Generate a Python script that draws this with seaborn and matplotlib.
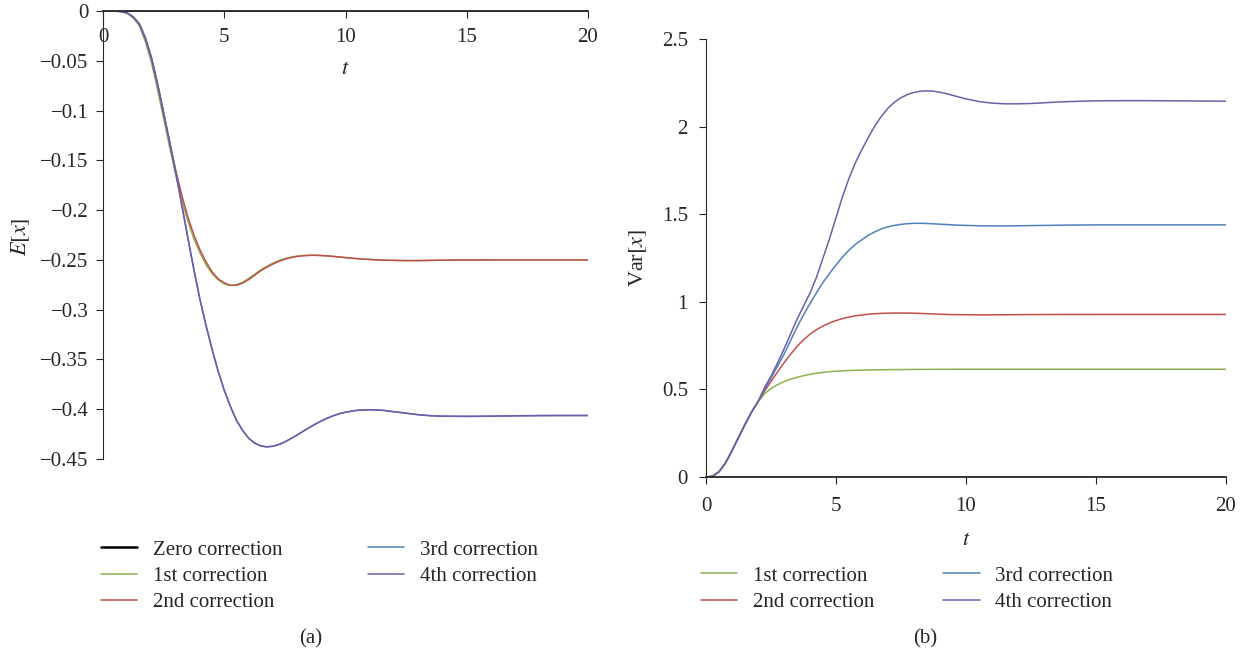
import pandas as pd
import seaborn as sns
import numpy as np
import matplotlib.pyplot as plt
from matplotlib.ticker import FuncFormatter

# time grid shared by every curve (fine where the curves move, coarse at the tail)
t = list(np.arange(0, 10.01, 0.25)) + [10.5, 11, 11.5, 12, 12.5, 13, 13.5, 14, 15, 16, 17, 18, 19, 20]

# (a) E[x]
mean_zero = [0.0] * len(t)
mean_1st = [0, 0, -0.0001, -0.0006, -0.0025, -0.007, -0.015, -0.031, -0.052, -0.079,
            -0.108, -0.137, -0.165, -0.190, -0.211, -0.229, -0.243, -0.255, -0.264, -0.270,
            -0.2742, -0.2757, -0.275, -0.2725, -0.2688, -0.2645, -0.2602, -0.2565, -0.2533,
            -0.2507, -0.2487, -0.2472, -0.2462, -0.2456, -0.2453, -0.2453, -0.2456, -0.246,
            -0.2465, -0.2471, -0.2477,
            -0.2488, -0.2496, -0.2502, -0.2505, -0.2507, -0.2507, -0.2505, -0.2503,
            -0.2501, -0.25, -0.25, -0.25, -0.25, -0.25]
mean_2nd = [0, 0, -0.0001, -0.0005, -0.002, -0.006, -0.013, -0.028, -0.048, -0.074,
            -0.103, -0.132, -0.160, -0.185, -0.207, -0.225, -0.240, -0.252, -0.262, -0.269,
            -0.273, -0.2755, -0.2755, -0.2735, -0.270, -0.2655, -0.261, -0.2575, -0.2543,
            -0.2515, -0.2493, -0.2477, -0.2466, -0.2459, -0.2455, -0.2454, -0.2456, -0.246,
            -0.2465, -0.2471, -0.2477,
            -0.2488, -0.2496, -0.2502, -0.2505, -0.2507, -0.2507, -0.2505, -0.2503,
            -0.2501, -0.25, -0.25, -0.25, -0.25, -0.25]
mean_3rd = [0, 0, -0.0001, -0.0005, -0.002, -0.006, -0.013, -0.027, -0.047, -0.073,
            -0.102, -0.132, -0.162, -0.195, -0.228, -0.260, -0.290, -0.316, -0.340, -0.362,
            -0.381, -0.397, -0.411, -0.421, -0.429, -0.434, -0.4368, -0.4378, -0.4372,
            -0.4355, -0.4328, -0.4295, -0.426, -0.4222, -0.4185, -0.415, -0.4118, -0.409,
            -0.4065, -0.4045, -0.403,
            -0.401, -0.4005, -0.401, -0.4025, -0.404, -0.4055, -0.4065, -0.407,
            -0.4072, -0.407, -0.4066, -0.4064, -0.4063, -0.4063]
mean_4th = mean_3rd

# (b) Var[x]
var_start = [0, 0.004, 0.03, 0.08, 0.15, 0.225, 0.30, 0.37, 0.43]
var_1st = var_start + [0.475, 0.505, 0.527, 0.544, 0.558, 0.569, 0.578, 0.586, 0.592,
                       0.597, 0.601, 0.604, 0.606, 0.608, 0.609, 0.610, 0.611, 0.6115,
                       0.612, 0.6125, 0.613, 0.6133, 0.6136, 0.6139, 0.6141, 0.6143,
                       0.6145, 0.6147, 0.6148, 0.6149, 0.615, 0.615, 0.615, 0.615,
                       0.615, 0.615, 0.615, 0.615, 0.615, 0.615, 0.615, 0.615, 0.615,
                       0.615, 0.615, 0.615]
var_2nd = var_start + [0.49, 0.545, 0.60, 0.652, 0.70, 0.745, 0.783, 0.815, 0.841,
                       0.862, 0.879, 0.893, 0.904, 0.913, 0.920, 0.925, 0.929, 0.932,
                       0.934, 0.935, 0.936, 0.936, 0.9355, 0.935, 0.9335, 0.932, 0.9305,
                       0.929, 0.928, 0.927, 0.9265, 0.926, 0.9255, 0.9255, 0.926, 0.9265,
                       0.927, 0.9273, 0.9275, 0.9277, 0.9278, 0.9278, 0.9278, 0.9278,
                       0.9278, 0.9278]
var_3rd = var_start + [0.50, 0.565, 0.632, 0.70, 0.778, 0.855, 0.925, 0.99, 1.052,
                       1.11, 1.162, 1.21, 1.255, 1.295, 1.328, 1.355, 1.38, 1.40, 1.416,
                       1.428, 1.436, 1.442, 1.446, 1.448, 1.448, 1.447, 1.445, 1.443,
                       1.441, 1.439, 1.437, 1.436, 1.434, 1.433, 1.433, 1.434, 1.435,
                       1.436, 1.437, 1.438, 1.439, 1.439, 1.439, 1.439, 1.439, 1.439]
var_4th = var_start + [0.51, 0.575, 0.65, 0.73, 0.815, 0.90, 0.975, 1.05, 1.14, 1.25,
                       1.36, 1.48, 1.60, 1.705, 1.795, 1.87, 1.94, 2.005, 2.06, 2.105,
                       2.14, 2.165, 2.183, 2.195, 2.202, 2.204, 2.202, 2.196, 2.188,
                       2.178, 2.168, 2.158, 2.143, 2.134, 2.13, 2.13, 2.132, 2.136,
                       2.14, 2.143, 2.147, 2.148, 2.148, 2.147, 2.146, 2.145]

labels = ['Zero correction', '1st correction', '2nd correction', '3rd correction', '4th correction']
colors = {'Zero correction': 'black', '1st correction': '#8cb04e', '2nd correction': '#c0504d',
          '3rd correction': '#4f81bd', '4th correction': '#6c5fa8'}

df_mean = pd.DataFrame({'t': t * 5,
                        'value': mean_zero + mean_1st + mean_2nd + mean_3rd + mean_4th,
                        'series': np.repeat(labels, len(t))})
df_var = pd.DataFrame({'t': t * 4,
                       'value': var_1st + var_2nd + var_3rd + var_4th,
                       'series': np.repeat(labels[1:], len(t))})

sns.set_style('ticks')
plt.rcParams['font.family'] = ['Liberation Serif', 'DejaVu Serif']
plt.rcParams['mathtext.fontset'] = 'stix'
fs = 15


def fmt(v, pos):
    return f'{v:g}'.replace('-', '\u2212')


fig = plt.figure(figsize=(12.5, 6.57), dpi=100)

# ---- (a) ----
ax1 = fig.add_axes([103 / 1250, 1 - 459 / 657, 485 / 1250, 448 / 657])
sns.lineplot(data=df_mean, x='t', y='value', hue='series', hue_order=labels,
             palette=colors, linewidth=1.1, ax=ax1, legend=False)
ax1.set_xlim(0, 20)
ax1.set_ylim(-0.45, 0)
ax1.spines['bottom'].set_position(('data', 0))
ax1.spines['bottom'].set_linewidth(1.3)
ax1.spines['top'].set_visible(False)
ax1.spines['right'].set_visible(False)
ax1.set_xticks([0, 5, 10, 15, 20])
ax1.set_yticks(np.arange(0, -0.451, -0.05))
ax1.yaxis.set_major_formatter(FuncFormatter(fmt))
ax1.tick_params(axis='x', direction='out', length=5, pad=7, labelsize=fs)
ax1.tick_params(axis='y', direction='out', length=5, pad=5.5, labelsize=fs)
ax1.set_xlabel('')
ax1.set_ylabel(r'$E[x]$', fontsize=fs + 1)
ax1.yaxis.set_label_coords(-0.146, 0.4955)
ax1.text(10, -0.059, r'$t$', fontsize=fs + 1, ha='center', va='center')

# ---- (b) ----
ax2 = fig.add_axes([706 / 1250, 1 - 477 / 657, 520 / 1250, 438 / 657])
sns.lineplot(data=df_var, x='t', y='value', hue='series', hue_order=labels[1:],
             palette=colors, linewidth=1.1, ax=ax2, legend=False)
ax2.set_xlim(0, 20)
ax2.set_ylim(0, 2.5)
ax2.spines['top'].set_visible(False)
ax2.spines['right'].set_visible(False)
ax2.spines['bottom'].set_linewidth(1.3)
ax2.set_xticks([0, 5, 10, 15, 20])
ax2.set_yticks([0, 0.5, 1, 1.5, 2, 2.5])
ax2.yaxis.set_major_formatter(FuncFormatter(fmt))
ax2.tick_params(axis='x', direction='out', length=5, pad=9.5, labelsize=fs)
ax2.tick_params(axis='y', direction='out', length=5, pad=8, labelsize=fs)
ax2.set_xlabel(r'$t$', fontsize=fs + 1, labelpad=10.5)
ax2.set_ylabel(r'Var$[x]$', fontsize=fs + 1, labelpad=9.5)

# legends
h1 = [plt.Line2D([], [], color=colors[k], lw=1.8 if k == 'Zero correction' else 1.1) for k in labels]
fig.legend(h1, labels, loc='upper left', bbox_to_anchor=(101 / 1250, 1 - 540 / 657),
           ncol=2, frameon=False, fontsize=fs, handlelength=1.75, handletextpad=0.75,
           columnspacing=4.1, labelspacing=0.32, borderpad=0, borderaxespad=0)
h2 = [plt.Line2D([], [], color=colors[k], lw=1.1) for k in labels[1:]]
fig.legend(h2, labels[1:], loc='upper left', bbox_to_anchor=(701 / 1250, 1 - 566 / 657),
           ncol=2, frameon=False, fontsize=fs, handlelength=1.75, handletextpad=0.75,
           columnspacing=3.3, labelspacing=0.32, borderpad=0, borderaxespad=0)

fig.text(311 / 1250, 1 - 639 / 657, '(a)', fontsize=fs, ha='center', va='center')
fig.text(925 / 1250, 1 - 639 / 657, '(b)', fontsize=fs, ha='center', va='center')

plt.savefig('out.png', dpi=100)
